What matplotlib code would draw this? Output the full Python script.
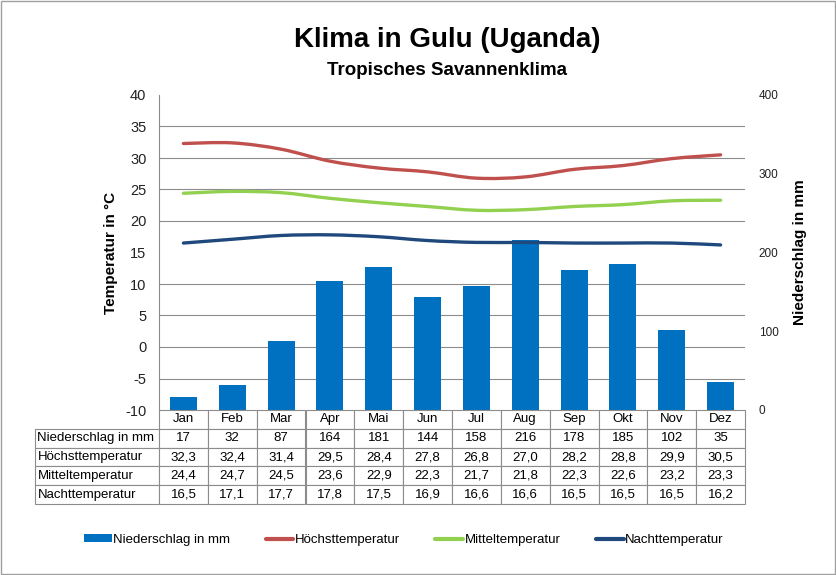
import numpy as np
import matplotlib
matplotlib.use("Agg")
from matplotlib import pyplot as plt
from matplotlib.path import Path
from matplotlib.patches import PathPatch, Rectangle, Patch
from matplotlib.lines import Line2D

plt.rcParams['font.family'] = ['Liberation Sans', 'DejaVu Sans']
plt.rcParams['axes.unicode_minus'] = False

months = ["Jan", "Feb", "Mar", "Apr", "Mai", "Jun", "Jul", "Aug", "Sep", "Okt", "Nov", "Dez"]
niederschlag = [17, 32, 87, 164, 181, 144, 158, 216, 178, 185, 102, 35]
hoechst = [32.3, 32.4, 31.4, 29.5, 28.4, 27.8, 26.8, 27.0, 28.2, 28.8, 29.9, 30.5]
mittel = [24.4, 24.7, 24.5, 23.6, 22.9, 22.3, 21.7, 21.8, 22.3, 22.6, 23.2, 23.3]
nacht = [16.5, 17.1, 17.7, 17.8, 17.5, 16.9, 16.6, 16.6, 16.5, 16.5, 16.5, 16.2]

row_labels = ["Niederschlag in mm", "Höchsttemperatur", "Mitteltemperatur", "Nachttemperatur"]

c_bar = "#0070C0"
c_hoch = "#C0504D"
c_mittel = "#92D050"
c_nacht = "#1F497D"
c_grid = "#8C8C8C"


def smooth_path(x, y):
    # excel-like smoothed line: bezier segments through every data point
    pts = np.column_stack([x, y]).astype(float)
    ext = np.vstack([pts[0], pts, pts[-1]])
    verts = [pts[0]]
    codes = [Path.MOVETO]
    for i in range(1, len(ext) - 2):
        p0, p1, p2, p3 = ext[i - 1], ext[i], ext[i + 1], ext[i + 2]
        verts += [p1 + (p2 - p0) / 6, p2 - (p3 - p1) / 6, p2]
        codes += [Path.CURVE4] * 3
    return Path(verts, codes)


fig = plt.figure(figsize=(8.36, 5.75), dpi=100)
ax = fig.add_axes([159 / 836, 1 - 410 / 575, 586 / 836, 315 / 575])
ax2 = ax.twinx()
ax.set_zorder(2)
ax2.set_zorder(1)
ax.patch.set_visible(False)

x = np.arange(len(months))

# bars on the precipitation axis, gridlines follow the 5 °C steps (= 40 mm)
ax2.bar(x, niederschlag, width=0.55, color=c_bar, zorder=2)
ax2.set_ylim(0, 400)
ax2.set_yticks([0, 100, 200, 300, 400])
ax2.set_yticks(np.arange(0, 401, 40), minor=True)
ax2.grid(True, which='minor', axis='y', color=c_grid, linewidth=0.8)
ax2.grid(False, which='major')
ax2.set_axisbelow(True)
ax2.tick_params(axis='y', which='both', length=0, pad=10, labelsize=8.5, colors='#222222')
ax2.set_ylabel("Niederschlag in mm", fontsize=11, fontweight='bold', labelpad=10)

# temperature lines
for vals, col in [(hoechst, c_hoch), (mittel, c_mittel), (nacht, c_nacht)]:
    ax.add_patch(PathPatch(smooth_path(x, vals), fill=False, edgecolor=col,
                           linewidth=2.4, capstyle='round', zorder=3))

ax.set_xlim(-0.5, 11.5)
ax.set_ylim(-10, 40)
ax.set_yticks(np.arange(-10, 41, 5))
ax.tick_params(axis='y', length=0, pad=9, labelsize=10.5, colors='#222222')
ax.set_xticks([])
ax.set_ylabel("Temperatur in °C", fontsize=11, fontweight='bold', labelpad=5)

for a in (ax, ax2):
    for s in ("top", "right", "bottom"):
        a.spines[s].set_visible(False)
ax2.spines["left"].set_visible(False)
ax.spines["left"].set_color(c_grid)
ax.spines["left"].set_linewidth(0.8)

# data table under the plot (first column holds the row labels)
cell_text = [
    [row_labels[0]] + [str(v) for v in niederschlag],
    [row_labels[1]] + [f"{v:.1f}".replace(".", ",") for v in hoechst],
    [row_labels[2]] + [f"{v:.1f}".replace(".", ",") for v in mittel],
    [row_labels[3]] + [f"{v:.1f}".replace(".", ",") for v in nacht],
]
label_w = 124 / 586
tab = ax.table(cellText=cell_text, colLabels=[""] + months,
               colWidths=[label_w] + [1 / 12] * 12, cellLoc='center',
               bbox=[-label_w, -94 / 315, 1 + label_w, 94 / 315])
tab.auto_set_font_size(False)
tab.set_fontsize(9.5)
for (r, c), cell in tab.get_celld().items():
    cell.set_edgecolor(c_grid)
    cell.set_linewidth(0.8)
    cell.PAD = 0.02
    if c == 0:
        cell.get_text().set_ha('left')
        cell._loc = 'left'
        if r == 0:
            cell.visible_edges = ''

# titles
fig.text(0.535, 0.930, "Klima in Gulu (Uganda)", ha='center', va='center',
         fontsize=20, fontweight='bold')
fig.text(0.535, 0.877, "Tropisches Savannenklima", ha='center', va='center',
         fontsize=13.5, fontweight='bold')

# legend
handles = [
    Patch(facecolor=c_bar, edgecolor='none'),
    Line2D([], [], color=c_hoch, linewidth=3, solid_capstyle='round'),
    Line2D([], [], color=c_mittel, linewidth=3, solid_capstyle='round'),
    Line2D([], [], color=c_nacht, linewidth=3, solid_capstyle='round'),
]
fig.legend(handles, ["Niederschlag in mm", "Höchsttemperatur", "Mitteltemperatur", "Nachttemperatur"],
           loc='center', bbox_to_anchor=(0.483, 0.061), ncol=4, frameon=False,
           fontsize=9.5, handlelength=2.1, handleheight=0.55, handletextpad=0.1, columnspacing=2.7)

# outer frame
fig.patches.append(Rectangle((0.0006, 0.0009), 0.9988, 0.9982, transform=fig.transFigure,
                             fill=False, edgecolor='#A0A0A0', linewidth=1))

fig.savefig("out.png", dpi=100)
